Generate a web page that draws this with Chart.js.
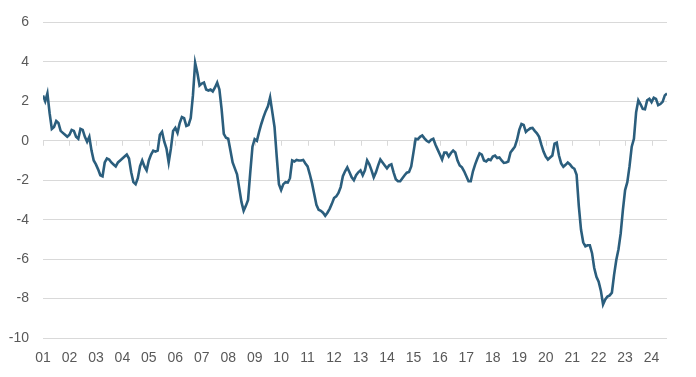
<!DOCTYPE html>
<html>
<head>
<meta charset="utf-8">
<script src="https://cdn.jsdelivr.net/npm/chart.js@4/dist/chart.umd.min.js"></script>
<style>
  html, body { margin: 0; padding: 0; background: #ffffff; }
  #wrap { width: 696px; height: 377px; }
</style>
</head>
<body>
<div id="wrap"><canvas id="c" width="696" height="377"></canvas></div>
<script>
// ---- DATA ----
const startYear = 2001;
const yearTickLabels = ["01","02","03","04","05","06","07","08","09","10","11","12","13","14","15","16","17","18","19","20","21","22","23","24"];
const yTicks = [6, 4, 2, 0, -2, -4, -6, -8, -10];
// Monthly values, Jan 2001 .. Aug 2024
const v2001_2004 = [
  2.3, 2.0, 2.4, 1.4, 0.6, 0.7, 1.0, 0.9, 0.5, 0.4, 0.3, 0.2,
  0.3, 0.55, 0.5, 0.2, 0.1, 0.6, 0.55, 0.2, -0.05, 0.2, -0.5, -1.0,
  -1.2, -1.45, -1.75, -1.8, -1.1, -0.9, -0.95, -1.1, -1.2, -1.3, -1.1, -1.0,
  -0.9, -0.8, -0.7, -0.9, -1.6, -2.1, -2.2, -1.9, -1.3, -1.0, -1.3, -1.5
];
const v2005_2008 = [
  -1.0, -0.7, -0.5, -0.55, -0.5, 0.3, 0.45, -0.05, -0.4, -1.1, -0.4, 0.5,
  0.65, 0.4, 0.9, 1.2, 1.15, 0.75, 0.8, 1.15, 2.3, 3.95, 3.45, 2.8,
  2.9, 2.95, 2.6, 2.55, 2.6, 2.5, 2.7, 2.95, 2.6, 1.6, 0.35, 0.15,
  0.1, -0.5, -1.1, -1.4, -1.7, -2.4, -3.1, -3.55, -3.3, -3.0, -1.6, -0.3
];
const v2009_2012 = [
  0.08, 0.0, 0.45, 0.85, 1.2, 1.5, 1.75, 2.2, 1.45, 0.7, -0.8, -2.2,
  -2.5, -2.2, -2.1, -2.12, -1.9, -1.0, -1.05, -0.97, -1.0, -1.0, -0.97, -1.15,
  -1.3, -1.7, -2.15, -2.7, -3.25, -3.5, -3.55, -3.65, -3.8, -3.65, -3.45, -3.2,
  -2.9, -2.82, -2.65, -2.35, -1.8, -1.55, -1.35, -1.6, -1.85, -2.0, -1.75, -1.6
];
const v2013_2016 = [
  -1.5, -1.75, -1.5, -1.0, -1.2, -1.5, -1.85, -1.6, -1.25, -0.95, -1.1, -1.25,
  -1.4, -1.25, -1.2, -1.6, -1.95, -2.05, -2.05, -1.9, -1.75, -1.62, -1.58, -1.3,
  -0.6, 0.1, 0.07, 0.2, 0.27, 0.12, 0.0, -0.07, 0.05, 0.1, -0.2, -0.45,
  -0.7, -0.95, -0.6, -0.6, -0.8, -0.62, -0.5, -0.6, -1.0, -1.25, -1.35, -1.55
];
const v2017_2020 = [
  -1.8, -2.05, -2.05, -1.55, -1.2, -0.9, -0.64, -0.7, -1.0, -1.05, -0.94, -0.98,
  -0.8, -0.75, -0.88, -0.85, -1.0, -1.12, -1.1, -1.05, -0.6, -0.45, -0.3, 0.05,
  0.55, 0.85, 0.8, 0.45, 0.55, 0.63, 0.65, 0.5, 0.38, 0.2, -0.2, -0.55,
  -0.8, -0.95, -0.85, -0.75, -0.15, -0.1, -0.75, -1.15, -1.32, -1.22, -1.1, -1.2
];
const v2021_2024 = [
  -1.35, -1.42, -1.72, -3.3, -4.5, -5.15, -5.35, -5.3, -5.3, -5.7, -6.45, -6.9,
  -7.15, -7.6, -8.3, -8.05, -7.9, -7.84, -7.7, -6.8, -6.05, -5.5, -4.7, -3.5,
  -2.5, -2.1, -1.3, -0.3, 0.1, 1.45, 2.05, 1.85, 1.62, 1.6, 2.05, 2.13,
  1.96, 2.18, 2.12, 1.8, 1.86, 1.97, 2.3, 2.4
];
const values = [].concat(v2001_2004, v2005_2008, v2009_2012, v2013_2016, v2017_2020, v2021_2024);

// ---- CHART ----
const points = values.map((v, i) => ({ x: startYear + i / 12, y: v }));
const gridColor = '#d9d9d9';
const textColor = '#595959';

const zeroTicks = {
  id: 'zeroTicks',
  beforeDatasetsDraw(chart) {
    const xs = chart.scales.x, ys = chart.scales.y;
    const y0 = ys.getPixelForValue(0);
    const ctx = chart.ctx;
    ctx.save();
    ctx.strokeStyle = gridColor;
    ctx.lineWidth = 1;
    yearTickLabels.forEach((lab, k) => {
      const x = Math.round(xs.getPixelForValue(startYear + k)) + 0.5;
      ctx.beginPath();
      ctx.moveTo(x, y0);
      ctx.lineTo(x, y0 + 5);
      ctx.stroke();
    });
    ctx.restore();
  }
};

Chart.defaults.font.family = '"Liberation Sans", Arial, Helvetica, sans-serif';
Chart.defaults.font.size = 14;
Chart.defaults.color = textColor;

new Chart(document.getElementById('c'), {
  type: 'line',
  data: {
    datasets: [{
      data: points,
      borderColor: '#2b5e7d',
      borderWidth: 2.6,
      pointRadius: 0,
      tension: 0,
      fill: false
    }]
  },
  options: {
    responsive: false,
    animation: false,
    layout: { padding: { top: 20, right: 29, bottom: 0, left: 0 } },
    plugins: { legend: { display: false }, tooltip: { enabled: false } },
    scales: {
      x: {
        type: 'linear',
        min: startYear,
        max: startYear + (values.length - 1) / 12,
        grid: { display: false, drawTicks: false },
        border: { display: false },
        afterFit(scale) { scale.height = 39; },
        ticks: {
          stepSize: 1,
          includeBounds: false,
          autoSkip: false,
          maxRotation: 0,
          padding: 12,
          color: textColor,
          callback: (val) => {
            const k = Math.round(val - startYear);
            return (Math.abs(val - Math.round(val)) < 1e-6 && k >= 0 && k < yearTickLabels.length) ? yearTickLabels[k] : null;
          }
        }
      },
      y: {
        min: -10,
        max: 6,
        grid: { color: gridColor, lineWidth: 1, drawTicks: false },
        border: { display: false },
        afterFit(scale) { scale.width = 43; },
        afterBuildTicks(scale) { scale.ticks = yTicks.map(v => ({ value: v })); },
        ticks: {
          padding: 14,
          color: textColor,
          callback: (val) => String(val)
        }
      }
    }
  },
  plugins: [zeroTicks]
});
</script>
</body>
</html>
